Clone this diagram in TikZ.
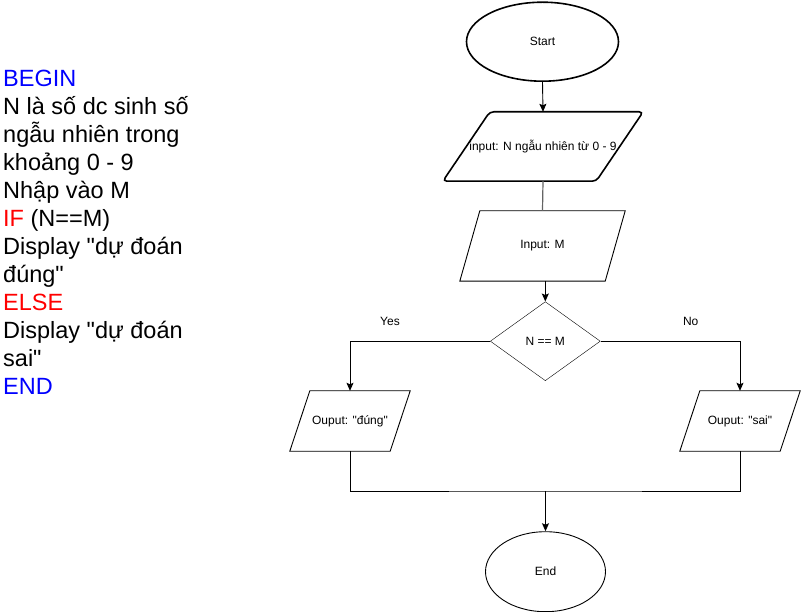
\documentclass[tikz,border=0pt]{standalone}
\usepackage{fontspec}
\setmainfont{Liberation Sans}[Ligatures=TeXOff]
\usetikzlibrary{shapes.geometric,arrows.meta,calc}

\definecolor{kwblue}{RGB}{0,0,255}
\definecolor{kwred}{RGB}{255,0,0}
\definecolor{linkgray}{RGB}{100,100,100}

\tikzset{
  flowtext/.style={font=\fontsize{12}{14}\selectfont, text=black},
  terminal/.style={ellipse, draw, flowtext, inner sep=0pt},
  iobox/.style={rectangle, flowtext, inner sep=0pt},
  decision/.style={diamond, draw, flowtext, inner sep=0pt},
  link/.style={draw, line width=0.9pt},
  arr/.style={link, -{Stealth[length=8pt,width=7pt,inset=1.5pt]}},
  tag/.style={flowtext}
}

% parallelogram drawn round a rectangular node: #2 node name, #3 slant
\newcommand{\slantbox}[3][]{%
  \draw[line width=0.9pt,#1] (#2.south west) -- ([xshift=-#3]#2.south east)
    -- (#2.north east) -- ([xshift=#3]#2.north west) -- cycle;}

\begin{document}
\begin{tikzpicture}[x=1pt,y=-1pt]
\useasboundingbox (0,0) rectangle (801,612);

% pseudocode
\node[anchor=north west, align=left, inner sep=0pt,
      font=\fontsize{23.5}{28}\selectfont] (code) at (3,69.9) {%
  \textcolor{kwblue}{BEGIN}\\
  N là số dc sinh số\\
  ngẫu nhiên trong\\
  khoảng 0 - 9\\
  Nhập vào M\\
  \textcolor{kwred}{IF} (N==M)\\
  Display "dự đoán\\
  đúng"\\
  \textcolor{kwred}{ELSE}\\
  Display "dự đoán\\
  sai"\\
  \textcolor{kwblue}{END}};

% flowchart nodes
\node[terminal, line width=1.6pt, minimum width=152pt, minimum height=79pt] (start) at (542.5,41.7) {Start};
\node[iobox, minimum width=200pt, minimum height=69pt] (inN) at (543,146.5) {input: N ngẫu nhiên từ 0 - 9};
\slantbox[line width=1.6pt, rounded corners=4pt]{inN}{47pt}
\node[iobox, minimum width=165pt, minimum height=70pt] (inM) at (542.5,246) {Input: M};
\slantbox{inM}{20pt}
\node[decision, minimum width=110pt, minimum height=79pt] (dec) at (545.3,341.2) {N == M};
\node[iobox, minimum width=120pt, minimum height=60pt] (outY) at (350,421) {Ouput: "đúng"};
\slantbox{outY}{20pt}
\node[iobox, minimum width=120pt, minimum height=60pt] (outN) at (740,421) {Ouput: "sai"};
\slantbox{outN}{20pt}
\node[terminal, line width=0.9pt, minimum width=120pt, minimum height=80pt] (end) at (545.5,571.7) {End};

% branch labels
\node[tag] (yes) at (390,321.7) {Yes};
\node[tag] (no) at (690.7,321.7) {No};

% connectors
\draw[arr] (start.south) -- (inN.north);
\draw[link, draw=linkgray, line width=1.2pt] (inN.south) -- (inM.north);
\draw[arr] (inM.south -| dec.north) -- (dec.north);
\draw[arr] (dec.west) -| (outY.north);
\draw[arr] (dec.east) -| (outN.north);
\coordinate (join) at (end.north |- 0,491);
\draw[link] (outY.south) |- (join) -| (outN.south);
\draw[arr] (join) -- (end.north);
\end{tikzpicture}
\end{document}
